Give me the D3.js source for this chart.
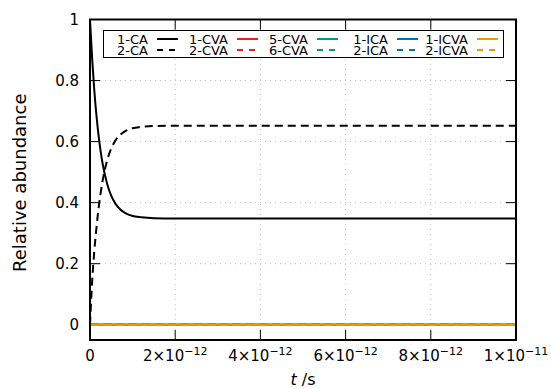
<!DOCTYPE html>
<html>
  <head>
    <meta charset="utf-8">
    <title>Relative abundance</title>
    <script type="text/javascript" src="https://d3js.org/d3.v7.min.js"></script>
    <style type="text/css">
      body { margin: 0; background: #fff; }
      text { font-family: "DejaVu Sans", "Noto Sans", sans-serif; fill: #000; }
      .grid line { stroke: #bdbdbd; stroke-width: 1; stroke-dasharray: 1,4; }
    </style>
  </head>
  <body>
    <svg id="chart" width="551" height="389"></svg>
    <script type="text/javascript">

// time in units of 1e-12 s
var times = [0, 0.05, 0.1, 0.15, 0.2, 0.25, 0.3, 0.4, 0.5, 0.6, 0.7, 0.8, 1.0, 1.2, 1.5, 2, 3, 4, 5, 6, 7, 8, 9, 10];

var ca1   = [1.0, 0.873, 0.770, 0.688, 0.621, 0.568, 0.525, 0.463, 0.422, 0.396, 0.379, 0.368, 0.356, 0.352, 0.349, 0.348, 0.348, 0.348, 0.348, 0.348, 0.348, 0.348, 0.348, 0.348];
var ca2   = [0, 0.14, 0.24, 0.315, 0.38, 0.432, 0.475, 0.537, 0.578, 0.604, 0.621, 0.632, 0.644, 0.648, 0.651, 0.652, 0.652, 0.652, 0.652, 0.652, 0.652, 0.652, 0.652, 0.652];
var cva1  = [0, 0, 0, 0, 0, 0, 0, 0, 0, 0, 0, 0, 0, 0, 0, 0, 0, 0, 0, 0, 0, 0, 0, 0];
var cva2  = [0, 0, 0, 0, 0, 0, 0, 0, 0, 0, 0, 0, 0, 0, 0, 0, 0, 0, 0, 0, 0, 0, 0, 0];
var cva5  = [0, 0, 0, 0, 0, 0, 0, 0, 0, 0, 0, 0, 0, 0, 0, 0, 0, 0, 0, 0, 0, 0, 0, 0];
var cva6  = [0, 0, 0, 0, 0, 0, 0, 0, 0, 0, 0, 0, 0, 0, 0, 0, 0, 0, 0, 0, 0, 0, 0, 0];
var ica1  = [0, 0, 0, 0, 0, 0, 0, 0, 0, 0, 0, 0, 0, 0, 0, 0, 0, 0, 0, 0, 0, 0, 0, 0];
var ica2  = [0, 0, 0, 0, 0, 0, 0, 0, 0, 0, 0, 0, 0, 0, 0, 0, 0, 0, 0, 0, 0, 0, 0, 0];
var icva1 = [0, 0, 0, 0, 0, 0, 0, 0, 0, 0, 0, 0, 0, 0, 0, 0, 0, 0, 0, 0, 0, 0, 0, 0];
var icva2 = [0, 0, 0, 0, 0, 0, 0, 0, 0, 0, 0, 0, 0, 0, 0, 0, 0, 0, 0, 0, 0, 0, 0, 0];

var xTicks = [0, 2e-12, 4e-12, 6e-12, 8e-12, 1e-11];
var xTickMant = ["0", "2", "4", "6", "8", "1"];
var xTickExp  = ["", "−12", "−12", "−12", "−12", "−11"];
var yTicks = [0, 0.2, 0.4, 0.6, 0.8, 1];
var yTickLabels = ["0", "0.2", "0.4", "0.6", "0.8", "1"];

// legend order is row-major: 1-CA, 1-CVA, 5-CVA, 1-ICA, 1-ICVA / 2-CA, ...
var series = [
  {name: "1-CA",   values: ca1,   color: "#000000", dash: null, col: 0, row: 0},
  {name: "2-CA",   values: ca2,   color: "#000000", dash: "8,5", col: 0, row: 1},
  {name: "1-CVA",  values: cva1,  color: "#e8231d", dash: null, col: 1, row: 0},
  {name: "2-CVA",  values: cva2,  color: "#e8231d", dash: "8,5", col: 1, row: 1},
  {name: "5-CVA",  values: cva5,  color: "#009e73", dash: null, col: 2, row: 0},
  {name: "6-CVA",  values: cva6,  color: "#009e73", dash: "8,5", col: 2, row: 1},
  {name: "1-ICA",  values: ica1,  color: "#0072b2", dash: null, col: 3, row: 0},
  {name: "2-ICA",  values: ica2,  color: "#0072b2", dash: "8,5", col: 3, row: 1},
  {name: "1-ICVA", values: icva1, color: "#e69f00", dash: null, col: 4, row: 0},
  {name: "2-ICVA", values: icva2, color: "#e69f00", dash: "8,5", col: 4, row: 1}
];

var svg = d3.select("#chart");
var plotL = 90, plotR = 516, plotT = 19.5, plotB = 340;

var x = d3.scaleLinear().domain([0, 1e-11]).range([plotL, plotR]);
var y = d3.scaleLinear().domain([-0.05, 1]).range([plotB, plotT]);

// grid
var grid = svg.append("g").attr("class", "grid");
grid.selectAll(".gx")
  .data(xTicks.slice(1, -1))
  .enter().append("line")
    .attr("x1", function(d) { return x(d); })
    .attr("x2", function(d) { return x(d); })
    .attr("y1", plotB).attr("y2", plotT);
grid.selectAll(".gy")
  .data(yTicks.slice(1, -1))
  .enter().append("line")
    .attr("x1", plotL).attr("x2", plotR)
    .attr("y1", function(d) { return y(d); })
    .attr("y2", function(d) { return y(d); });

// inward ticks on all four sides
var tickLen = 10;
var ticks = svg.append("g").attr("stroke", "#000").attr("stroke-width", 1);
xTicks.forEach(function(d) {
  ticks.append("line").attr("x1", x(d)).attr("x2", x(d)).attr("y1", plotB).attr("y2", plotB - tickLen);
  ticks.append("line").attr("x1", x(d)).attr("x2", x(d)).attr("y1", plotT).attr("y2", plotT + tickLen);
});
yTicks.forEach(function(d) {
  ticks.append("line").attr("x1", plotL).attr("x2", plotL + tickLen).attr("y1", y(d)).attr("y2", y(d));
  ticks.append("line").attr("x1", plotR).attr("x2", plotR - tickLen).attr("y1", y(d)).attr("y2", y(d));
});

// tick labels
svg.append("g").selectAll("text")
  .data(yTicks)
  .enter().append("text")
    .attr("x", plotL - 11)
    .attr("y", function(d) { return y(d); })
    .attr("dy", "0.35em")
    .attr("text-anchor", "end")
    .style("font-size", "15px")
    .text(function(d, i) { return yTickLabels[i]; });

var xl = svg.append("g").selectAll("text")
  .data(xTicks)
  .enter().append("text")
    .attr("x", function(d) { return x(d); })
    .attr("y", 361)
    .attr("text-anchor", "middle")
    .style("font-size", "15px");
xl.each(function(d, i) {
  var t = d3.select(this);
  if (xTickExp[i] === "") { t.text(xTickMant[i]); return; }
  t.append("tspan").text(xTickMant[i] + "×10");
  t.append("tspan").attr("dy", -6).style("font-size", "11px").text(xTickExp[i]);
});

// axis titles
svg.append("text")
  .attr("transform", "translate(26," + ((plotT + plotB) / 2 + 3) + ") rotate(-90)")
  .attr("text-anchor", "middle")
  .style("font-size", "18px")
  .text("Relative abundance");

var xt = svg.append("text")
  .attr("x", (plotL + plotR) / 2)
  .attr("y", 385)
  .attr("text-anchor", "middle")
  .style("font-size", "16px");
xt.append("tspan").style("font-style", "italic").text("t");
xt.append("tspan").text(" /s");

// curves
var line = d3.line()
  .x(function(d) { return x(d[0] * 1e-12); })
  .y(function(d) { return y(d[1]); })
  .curve(d3.curveMonotoneX);

svg.append("g").selectAll("path")
  .data(series)
  .enter().append("path")
    .attr("fill", "none")
    .attr("stroke", function(d) { return d.color; })
    .attr("stroke-width", 2)
    .attr("stroke-dasharray", function(d) { return d.dash; })
    .attr("d", function(d) { return line(times.map(function(t, i) { return [t, d.values[i]]; })); });

// border
svg.append("rect")
  .attr("x", plotL).attr("y", plotT)
  .attr("width", plotR - plotL).attr("height", plotB - plotT)
  .attr("fill", "none").attr("stroke", "#000").attr("stroke-width", 2);

// legend
var leg = svg.append("g");
leg.append("rect")
  .attr("x", 103.5).attr("y", 30.5).attr("width", 400).attr("height", 27)
  .attr("fill", "#fff").attr("stroke", "#000").attr("stroke-width", 1);

var colStep = 80, textRight = 148, lineStart = 157, lineLen = 21;
var entry = leg.selectAll(".entry")
  .data(series)
  .enter().append("g")
    .attr("transform", function(d) { return "translate(" + (d.col * colStep) + "," + (39 + d.row * 11) + ")"; });
entry.append("text")
  .attr("x", textRight)
  .attr("dy", "0.36em")
  .attr("text-anchor", "end")
  .style("font-size", "13px")
  .text(function(d) { return d.name; });
entry.append("line")
  .attr("x1", lineStart).attr("x2", lineStart + lineLen)
  .attr("stroke", function(d) { return d.color; })
  .attr("stroke-width", 2)
  .attr("stroke-dasharray", function(d) { return d.dash ? "6,6" : null; });

    </script>
  </body>
</html>
